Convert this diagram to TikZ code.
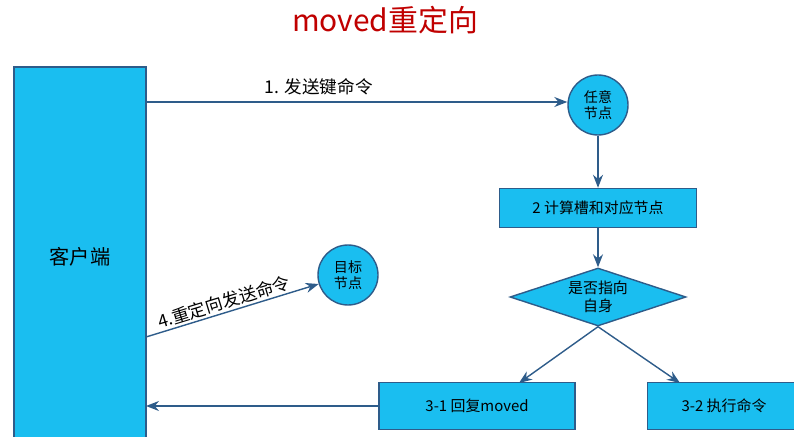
\documentclass[tikz,border=0pt]{standalone}
\usepackage{fontspec}
\setmainfont{Noto Sans CJK SC}
\usetikzlibrary{shapes.geometric,arrows.meta}
\definecolor{boxfill}{HTML}{1ABEF0}
\definecolor{boxline}{HTML}{2E5C8A}
\definecolor{titlered}{HTML}{C00000}
\begin{document}
\begin{tikzpicture}
      [x=0.2mm,y=-0.2mm,>={Stealth[length=2.6mm,width=2mm]},
      flow/.style={->,draw=boxline,thick},
      box/.style={rectangle,draw=boxline,thick,fill=boxfill,font=\fontsize{8.5}{10}\selectfont},
      main node/.style={circle,draw=boxline,thick,fill=boxfill,minimum size=12mm,align=center,font=\fontsize{8}{9.5}\selectfont}]
      \useasboundingbox (0,0) rectangle (794,437);
      \node[text=titlered,font=\fontsize{17}{20}\selectfont] (title) at (385,20) {moved重定向};
      \node[box,minimum width=26.4mm,minimum height=76mm,font=\fontsize{11.5}{13}\selectfont] (client) at (80,257) {客户端};
      \node[main node] (any) at (598,105) {任意\\节点};
      \node[box,minimum width=39.4mm,minimum height=7.8mm] (calc) at (598,208) {2 计算槽和对应节点};
      \node[diamond,draw=boxline,thick,fill=boxfill,aspect=3,minimum width=35.2mm,minimum height=11.6mm,inner sep=0pt,align=center,font=\fontsize{8.5}{10}\selectfont] (self) at (598,297) {是否指向\\自身};
      \node[box,minimum width=39.2mm,minimum height=9.4mm] (moved) at (477,406) {3-1 回复moved};
      \node[box,minimum width=30.6mm,minimum height=9.4mm] (exec) at (724,406) {3-2 执行命令};
      \node[main node] (target) at (348,275) {目标\\节点};
      \coordinate (c1) at (146,102);
      \coordinate (c2) at (146,406);
      \coordinate (c3) at (146,337);
      \coordinate (m1) at (519,383);
      \coordinate (e1) at (680,383);
      \draw[flow] (c1) -- node[above,black,font=\fontsize{10}{12}\selectfont,pos=0.41] {1. 发送键命令} (any.west |- c1);
      \draw[flow] (any) -- (calc);
      \draw[flow] (calc) -- (self);
      \draw[flow] (self.south) -- (m1);
      \draw[flow] (self.south) -- (e1);
      \draw[flow] (moved) -- (c2);
      \draw[flow] (c3) -- node[above,sloped,black,font=\fontsize{10}{12}\selectfont,pos=0.47,inner sep=1pt] {4.重定向发送命令} (target);
    \end{tikzpicture}
\end{document}
